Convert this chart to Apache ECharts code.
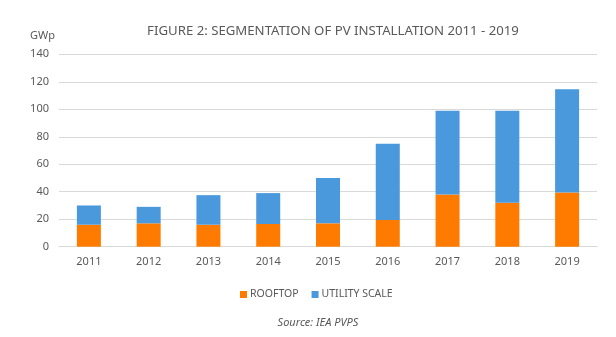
<!DOCTYPE html>
<html><head><meta charset="utf-8">
<script src="https://cdn.jsdelivr.net/npm/echarts@6/dist/echarts.min.js"></script>
<style>html,body{margin:0;padding:0;background:#fff}#c{width:616px;height:337px}</style>
</head><body><div id="c"></div>
<script>
const categories = ['2011','2012','2013','2014','2015','2016','2017','2018','2019'];
const rooftop = [16, 17, 16, 16.5, 17, 19.5, 38, 32, 39.5];
const utilityScale = [14, 12, 21.5, 22.5, 33, 55.5, 61, 67, 75];
const yTicks = [0, 20, 40, 60, 80, 100, 120, 140];

const chart = echarts.init(document.getElementById('c'), null, {renderer: 'canvas'});
const font = 'Noto Sans';
chart.setOption({
  animation: false,
  title: [{
    text: 'FIGURE 2: SEGMENTATION OF PV INSTALLATION 2011 - 2019',
    left: 328, top: 20, textAlign: 'center',
    textStyle: {fontFamily: font, fontSize: 13.2, fontWeight: 'normal', color: '#595959'}
  }, {
    text: 'Source: IEA PVPS',
    left: 313, top: 312, textAlign: 'center',
    textStyle: {fontFamily: font, fontSize: 11, fontStyle: 'italic', fontWeight: 'normal', color: '#595959'}
  }, {
    text: 'GWp',
    left: 25, top: 25,
    textStyle: {fontFamily: font, fontSize: 11, fontWeight: 'normal', color: '#595959'}
  }],
  legend: {
    data: ['ROOFTOP', 'UTILITY SCALE'],
    left: 235, top: 284,
    itemWidth: 7, itemHeight: 7, itemGap: 13, icon: 'rect',
    textStyle: {fontFamily: font, fontSize: 10.5, color: '#595959', padding: [0, 0, 0, -2]}
  },
  grid: {left: 59, right: 19, top: 54.3, bottom: 90.3, containLabel: false},
  xAxis: {
    type: 'category', data: categories,
    axisLine: {lineStyle: {color: '#d9d9d9'}},
    axisTick: {show: false},
    axisLabel: {fontFamily: font, fontSize: 11, color: '#595959', margin: 10}
  },
  yAxis: {
    type: 'value', min: yTicks[0], max: yTicks[yTicks.length - 1], interval: 20,
    axisLine: {show: false}, axisTick: {show: false},
    axisLabel: {fontFamily: font, fontSize: 11, color: '#595959', margin: 10},
    splitLine: {lineStyle: {color: '#d9d9d9'}}
  },
  series: [
    {name: 'ROOFTOP', type: 'bar', stack: 't', data: rooftop, barWidth: 24,
     itemStyle: {color: '#ff7b00'}},
    {name: 'UTILITY SCALE', type: 'bar', stack: 't', data: utilityScale, barWidth: 24,
     itemStyle: {color: '#4a99dc'}}
  ]
});
</script></body></html>
